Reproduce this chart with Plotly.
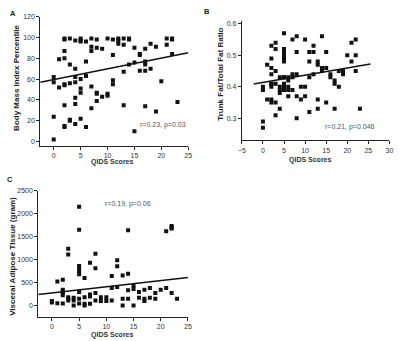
import plotly.graph_objects as go

# ---------------- data ----------------
a_x = [0,0,0,0,1,1,2,2,2,2,2,2,2,2,2,3,3,3,3,3,4,4,4,4,4,4,4,5,5,5,5,5,5,5,6,6,6,6,
       7,7,7,7,7,8,8,8,8,8,9,9,10,10,10,11,11,11,11,12,12,12,13,13,13,13,14,14,14,
       15,15,15,16,16,16,17,17,17,17,17,18,18,19,19,20,21,21,22,22,22,23]
a_y = [2,24,57,62,52,79,99,98,87,80,55,54,35,15,14,99,74,56,21,20,97,70,62,57,42,36,17,
       99,97,96,60,51,47,22,96,77,63,14,99,91,87,53,32,98,90,47,46,39,89,43,99,46,44,
       98,83,59,55,99,97,94,99,93,67,35,99,98,74,90,76,10,84,83,68,89,77,74,68,34,
       94,70,91,29,58,99,93,99,98,84,38]
a_fit = (59.6, 1.03)   # intercept, slope
a_stat = "r=0.23, p=0.03"

b_x = [0,0,0,0,1,1,2,2,2,2,2,2,2,2,2,3,3,3,3,3,3,4,4,4,4,4,
       5,5,5,5,5,5,5,5,5,5,5,5,6,6,6,6,6,7,7,7,7,8,8,8,8,8,9,9,10,10,10,
       11,11,11,11,12,12,12,13,13,13,13,14,14,14,15,15,15,16,16,17,17,17,
       18,18,19,19,20,21,21,22,22,22,23]
b_y = [0.29,0.27,0.40,0.39,0.47,0.36,0.53,0.49,0.46,0.44,0.41,0.41,0.40,0.36,0.35,
       0.54,0.52,0.45,0.41,0.35,0.31,0.43,0.40,0.39,0.38,0.33,
       0.57,0.52,0.51,0.50,0.49,0.49,0.48,0.43,0.41,0.40,0.39,0.43,0.43,0.42,0.40,0.39,0.37,
       0.55,0.44,0.43,0.39,0.56,0.51,0.44,0.37,0.30,0.40,0.36,0.55,0.40,0.37,
       0.51,0.48,0.43,0.32,0.53,0.51,0.44,0.48,0.47,0.36,0.33,0.56,0.46,0.45,
       0.51,0.46,0.35,0.44,0.43,0.42,0.41,0.33,0.45,0.40,0.45,0.44,0.50,
       0.54,0.48,0.55,0.50,0.45,0.33]
b_fit = (0.4136, 0.0023)
b_stat = "r=0.21, p=0.046"

c_x = [0,0,1,1,2,2,2,2,2,2,3,3,3,3,3,4,4,4,5,5,5,5,5,5,5,5,5,6,6,6,6,
       7,7,7,7,8,8,8,8,9,9,10,10,11,11,11,12,12,12,13,13,13,14,14,14,14,
       15,15,15,16,16,17,17,17,18,18,19,19,20,21,21,22,22,22,22,23]
c_y = [95,65,520,50,560,340,310,270,220,40,1235,1110,180,145,110,165,110,0,
       2150,1650,860,810,750,680,290,145,40,600,180,35,0,
       930,240,195,35,1125,810,270,110,180,95,180,95,640,380,110,985,855,400,
       650,145,0,1640,690,330,145,430,360,0,290,165,340,145,95,380,165,270,145,
       340,1620,380,1730,1700,1680,270,145]
c_fit = (271, 13.56)
c_stat = "r=0.19, p=0.06"

x_ticks_ac = [0, 5, 10, 15, 20, 25]
x_ticks_b = [-5, 0, 5, 10, 15, 20, 25, 30]
a_yticks = [0, 20, 40, 60, 80, 100, 120]
b_yticks = [0.3, 0.4, 0.5, 0.6]
c_yticks = [0, 500, 1000, 1500, 2000, 2500]

# ---------------- figure ----------------
W, H = 400, 341
FONT = "Liberation Sans, Arial, sans-serif"

def px_x(p): return p / W
def px_y(p): return 1 - p / H

fig = go.Figure()

panels = [
    ("A", a_x, a_y, a_fit, (-2.5, 25), "x", "y"),
    ("B", b_x, b_y, b_fit, (-2.2, 25.5), "x2", "y2"),
    ("C", c_x, c_y, c_fit, (-2.5, 25), "x3", "y3"),
]
for name, xs, ys, fit, span, xa, ya in panels:
    fig.add_trace(go.Scatter(x=xs, y=ys, mode="markers", xaxis=xa, yaxis=ya,
                             marker=dict(symbol="square", size=4, color="#111"),
                             showlegend=False, hoverinfo="skip"))
    b0, b1 = fit
    fig.add_trace(go.Scatter(x=[span[0], span[1]],
                             y=[b0 + b1 * span[0], b0 + b1 * span[1]],
                             mode="lines", xaxis=xa, yaxis=ya,
                             line=dict(color="#111", width=1.5),
                             showlegend=False, hoverinfo="skip"))

axis_common = dict(showline=True, linecolor="#222", linewidth=1, ticks="outside",
                   ticklen=3, tickwidth=1, tickcolor="#222", showgrid=False,
                   zeroline=False, tickfont=dict(family=FONT, size=7, color="#333"))

fig.update_layout(
    width=W, height=H, margin=dict(l=0, r=0, t=0, b=0),
    paper_bgcolor="white", plot_bgcolor="white",
    xaxis=dict(domain=[px_x(37), px_x(188)], range=[-2.5, 25], tickvals=x_ticks_ac,
               anchor="y", **axis_common),
    yaxis=dict(domain=[px_y(143.5), px_y(12.7)], range=[-4, 120], tickvals=a_yticks,
               anchor="x", **axis_common),
    xaxis2=dict(domain=[px_x(242.7), px_x(393.3)], range=[-5, 30], tickvals=x_ticks_b,
                anchor="y2", **axis_common),
    yaxis2=dict(domain=[px_y(138), px_y(16.8)], range=[0.23, 0.61], tickvals=b_yticks,
                tickformat=".1f", anchor="x2", **axis_common),
    xaxis3=dict(domain=[px_x(35), px_x(187.7)], range=[-2.5, 25], tickvals=x_ticks_ac,
                anchor="y3", **axis_common),
    yaxis3=dict(domain=[px_y(316.6), px_y(189)], range=[-250, 2500], tickvals=c_yticks,
                anchor="x3", **axis_common),
)

def ann(text, x, y, size=7, bold=False, angle=0, color="#222"):
    fig.add_annotation(text=f"<b>{text}</b>" if bold else text, xref="paper", yref="paper",
                       x=px_x(x), y=px_y(y), showarrow=False, textangle=angle,
                       xanchor="center", yanchor="middle",
                       font=dict(family=FONT, size=size, color=color))

ann("A", 9, 10, size=7.5, bold=True)
ann("B", 207, 8, size=7.5, bold=True)
ann("C", 6, 178, size=7.5, bold=True)

ann("QIDS Scores", 111, 160, size=7, bold=True, color="#333")
ann("QIDS Scores", 313, 158, size=7, bold=True, color="#333")
ann("QIDS Scores", 111, 335, size=7, bold=True, color="#333")

ann("Body Mass Index Percentile", 12, 75, size=8, bold=True, angle=-90)
ann("Trunk Fat/Total Fat Ratio", 221, 71, size=8, bold=True, angle=-90)
ann("Visceral Adipose Tissue (gram)", 8, 255, size=8, bold=True, angle=-90)

ann(a_stat, 162, 122, size=7, color="#555")
ann(b_stat, 353, 124, size=7, color="#555")
ann(c_stat, 127, 202, size=7, color="#555")

fig.write_html("out.html", config={"displayModeBar": False},
               post_script="document.body.style.margin='0';document.body.style.overflow='hidden';")
